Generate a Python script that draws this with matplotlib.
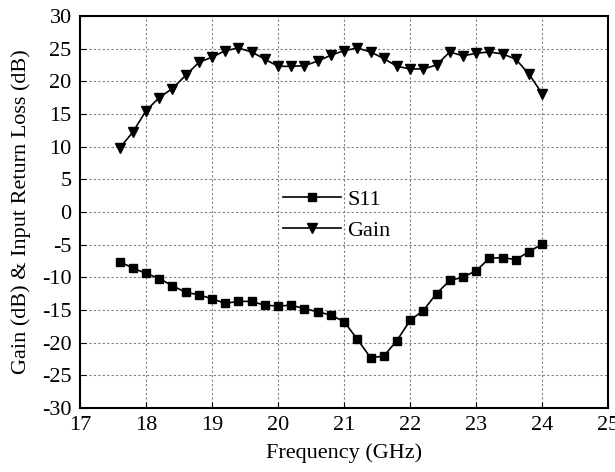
import numpy as np
import matplotlib
matplotlib.use('Agg')
import matplotlib.pyplot as plt

plt.rcParams['font.family'] = ['Liberation Serif', 'DejaVu Serif']
plt.rcParams['axes.unicode_minus'] = False

# Frequency points (GHz)
freq = [17.6, 17.8, 18.0, 18.2, 18.4, 18.6, 18.8, 19.0, 19.2, 19.4, 19.6,
        19.8, 20.0, 20.2, 20.4, 20.6, 20.8, 21.0, 21.2, 21.4, 21.6, 21.8,
        22.0, 22.2, 22.4, 22.6, 22.8, 23.0, 23.2, 23.4, 23.6, 23.8, 24.0]

# Input return loss (dB)
s11 = [-7.6, -8.6, -9.4, -10.2, -11.3, -12.3, -12.7, -13.3, -14.0, -13.7, -13.7,
       -14.3, -14.4, -14.3, -14.8, -15.3, -15.8, -16.8, -19.5, -22.3, -22.1, -19.7,
       -16.6, -15.1, -12.5, -10.5, -10.0, -9.0, -7.1, -7.0, -7.3, -6.1, -4.9]

# Gain (dB)
gain = [9.8, 12.2, 15.5, 17.5, 18.9, 20.9, 22.9, 23.7, 24.7, 25.1, 24.5,
        23.4, 22.3, 22.3, 22.4, 23.1, 24.0, 24.7, 25.1, 24.5, 23.5, 22.3,
        21.9, 21.9, 22.5, 24.5, 23.9, 24.3, 24.5, 24.2, 23.4, 21.1, 18.1]

fig = plt.figure(figsize=(6.15, 4.72), dpi=100)
ax = fig.add_axes([0.130, 0.136, 0.859, 0.830])

ax.plot(freq, s11, color='black', lw=1.2, marker='s', ms=6, label='S11')
ax.plot(freq, gain, color='black', lw=1.2, marker='v', ms=7, label='Gain')

ax.set_xlim(17, 25)
ax.set_ylim(-30, 30)
ax.set_xticks(np.arange(17, 26, 1))
ax.set_yticks(np.arange(-30, 31, 5))
ax.grid(True, color='#808080', linestyle=(0, (2, 2)), linewidth=0.8)
ax.tick_params(direction='in', labelsize=16, length=4)
ax.tick_params(axis='y', pad=6)
ax.tick_params(axis='x', pad=6)
for s in ax.spines.values():
    s.set_linewidth(1.5)

ax.set_xlabel('Frequency (GHz)', fontsize=16, labelpad=6)
ax.set_ylabel('Gain (dB) & Input Return Loss (dB)', fontsize=16, labelpad=8)

ax.legend(loc='upper left', bbox_to_anchor=(0.346, 0.608), frameon=False,
          fontsize=16, handlelength=2.6, handletextpad=0.3, labelspacing=0.45)

fig.savefig('out.png')
